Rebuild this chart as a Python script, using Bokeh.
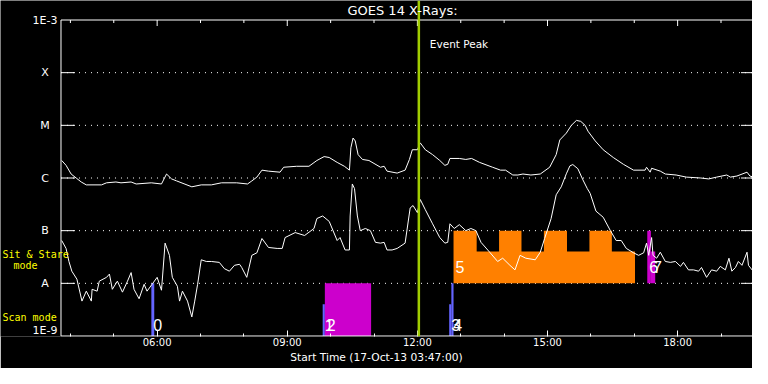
import pandas as pd
from bokeh.plotting import figure
from bokeh.models import FixedTicker, DatetimeAxis, DatetimeTickFormatter, Label, Span
from bokeh.embed import file_html
from bokeh.resources import INLINE

# ---------------- data ----------------
DAY = "2013-10-17 "
start_time = "03:47"
end_time = "19:47"
title_text = "GOES 14 X-Rays:"
x_label = "Start Time (17-Oct-13 03:47:00)"

level_values = [1e-9, 1e-8, 1e-7, 1e-6, 1e-5, 1e-4, 1e-3]
level_names = ["1E-9", "A", "B", "C", "M", "X", "1E-3"]

major_hours = ["06:00", "09:00", "12:00", "15:00", "18:00"]
minor_hours = ["04:00", "05:00", "07:00", "08:00", "10:00", "11:00", "13:00",
               "14:00", "16:00", "17:00", "19:00"]

# GOES long channel (1-8 A)
long_time = ["03:48", "03:54", "04:01", "04:08", "04:15", "04:22", "04:43", "04:50", "05:03", "05:10",
             "05:24", "05:31", "05:52", "06:06", "06:13", "06:20", "06:27", "06:48", "07:01", "07:15",
             "07:29", "07:50", "08:05", "08:11", "08:18", "08:25", "08:34", "08:50", "08:55", "09:13",
             "09:30", "09:41", "09:51", "09:58", "10:09", "10:19", "10:26", "10:28", "10:31", "10:34",
             "10:38", "10:44", "10:53", "11:09", "11:14", "11:18", "11:32", "11:43", "11:49", "11:53",
             "12:00", "12:04", "12:11", "12:21", "12:31", "12:38", "12:42", "12:45", "12:58", "13:07",
             "13:15", "13:26", "13:44", "13:55", "14:02", "14:12", "14:19", "14:26", "14:37", "14:50",
             "15:03", "15:12", "15:17", "15:26", "15:33", "15:40", "15:46", "15:52", "15:56", "16:06",
             "16:17", "16:31", "16:45", "16:59", "17:15", "17:17", "17:22", "17:24", "17:36", "17:43",
             "17:58", "18:12", "18:32", "18:43", "18:54", "19:08", "19:13", "19:22", "19:36", "19:40", "19:45"]
long_flux = [2.15e-6, 1.74e-6, 1.19e-6, 1.0e-6, 8.4e-7, 7.4e-7, 7.4e-7, 8.1e-7, 8.4e-7, 8.1e-7,
             8.4e-7, 7.7e-7, 8.1e-7, 7.7e-7, 1.19e-6, 9.6e-7, 8.8e-7, 6.8e-7, 7.4e-7, 7.4e-7,
             8.1e-7, 8.1e-7, 7.7e-7, 8.8e-7, 1.04e-6, 1.41e-6, 1.35e-6, 1.29e-6, 1.60e-6, 1.67e-6,
             1.67e-6, 2.15e-6, 2.55e-6, 2.45e-6, 1.98e-6, 1.67e-6, 1.41e-6, 3.75e-6, 5.74e-6, 5.06e-6,
             2.78e-6, 2.25e-6, 2.15e-6, 1.60e-6, 1.67e-6, 1.35e-6, 1.24e-6, 1.41e-6, 2.25e-6, 3.44e-6,
             3.44e-6, 4.64e-6, 3.44e-6, 2.78e-6, 2.15e-6, 1.74e-6, 1.82e-6, 2.35e-6, 2.35e-6, 2.25e-6,
             2.35e-6, 1.98e-6, 1.60e-6, 1.41e-6, 1.41e-6, 1.14e-6, 1.14e-6, 1.19e-6, 1.14e-6, 1.19e-6,
             1.60e-6, 2.78e-6, 5.28e-6, 7.11e-6, 1.0e-5, 1.24e-5, 1.19e-5, 1.0e-5, 7.74e-6, 5.06e-6,
             3.44e-6, 2.45e-6, 1.82e-6, 1.41e-6, 1.41e-6, 1.60e-6, 1.29e-6, 1.53e-6, 1.35e-6, 1.19e-6,
             1.14e-6, 1.04e-6, 1.0e-6, 9.6e-7, 1.04e-6, 1.14e-6, 1.04e-6, 1.09e-6, 1.29e-6, 1.09e-6, 1.04e-6]

# GOES short channel (0.5-4 A)
short_time = ["03:48", "03:54", "03:58", "04:02", "04:09", "04:16", "04:22", "04:29", "04:30", "04:37",
              "04:40", "04:50", "04:54", "04:58", "05:05", "05:12", "05:19", "05:24", "05:28", "05:35",
              "05:42", "05:46", "05:53", "06:00", "06:06", "06:07", "06:11", "06:17", "06:21", "06:28",
              "06:31", "06:35", "06:42", "06:48", "06:52", "06:56", "07:01", "07:08", "07:15", "07:26",
              "07:33", "07:40", "07:47", "07:54", "07:57", "08:04", "08:11", "08:18", "08:25", "08:34",
              "08:46", "08:53", "08:57", "09:11", "09:24", "09:37", "09:41", "09:49", "09:58", "10:09",
              "10:13", "10:20", "10:26", "10:27", "10:30", "10:33", "10:37", "10:41", "10:48", "10:55",
              "11:02", "11:09", "11:14", "11:18", "11:25", "11:32", "11:43", "11:50", "11:54", "12:00",
              "12:04", "12:11", "12:21", "12:31", "12:38", "12:42", "12:45", "12:51", "12:58", "13:07",
              "13:14", "13:21", "13:28", "13:40", "13:51", "13:58", "14:08", "14:15", "14:22", "14:30",
              "14:43", "14:50", "14:56", "15:05", "15:12", "15:19", "15:26", "15:31", "15:35", "15:42",
              "15:49", "15:55", "15:59", "16:07", "16:17", "16:27", "16:35", "16:42", "16:49", "16:59",
              "17:06", "17:13", "17:17", "17:20", "17:24", "17:26", "17:31", "17:36", "17:43", "17:50",
              "17:57", "18:04", "18:08", "18:15", "18:22", "18:29", "18:33", "18:40", "18:47", "18:54",
              "18:59", "19:06", "19:11", "19:15", "19:20", "19:24", "19:29", "19:36", "19:38", "19:43", "19:45"]
short_flux = [6.5e-8, 4.6e-8, 2.6e-8, 1.7e-8, 1.2e-8, 4.6e-9, 7.1e-9, 4.6e-9, 7.7e-9, 7.1e-9,
              1.1e-8, 1.3e-8, 1.5e-8, 7.7e-9, 1.1e-8, 6.8e-9, 1.1e-8, 1.6e-8, 7.7e-9, 5.1e-9,
              9.6e-9, 7.1e-9, 9.6e-9, 1.3e-8, 7.4e-9, 1.1e-8, 5.8e-8, 3.4e-8, 1.3e-8, 8.8e-9,
              4.6e-9, 7.1e-9, 4.6e-9, 2.3e-9, 4.6e-9, 9.6e-9, 2.8e-8, 2.6e-8, 2.6e-8, 2.5e-8,
              1.9e-8, 1.7e-8, 2.2e-8, 2.3e-8, 2.0e-8, 1.3e-8, 3.4e-8, 3.8e-8, 7.1e-8, 4.8e-8,
              4.6e-8, 4.6e-8, 7.4e-8, 9.2e-8, 8.1e-8, 1.1e-7, 1.7e-7, 1.9e-7, 1.5e-7, 6.5e-8,
              7.4e-8, 4.3e-8, 4.3e-8, 1.9e-7, 7.7e-7, 6.3e-7, 1.9e-7, 1.0e-7, 1.1e-7, 1.0e-7,
              6.0e-8, 5.8e-8, 6.0e-8, 4.3e-8, 4.3e-8, 4.6e-8, 5.8e-8, 2.7e-7, 3.0e-7, 2.2e-7,
              3.9e-7, 2.5e-7, 1.35e-7, 7.4e-8, 5.8e-8, 6.0e-8, 1.35e-7, 1.1e-7, 1.3e-7, 1.0e-7,
              1.1e-7, 1.0e-7, 6.0e-8, 3.9e-8, 2.6e-8, 3.0e-8, 2.2e-8, 1.8e-8, 3.4e-8, 3.0e-8,
              2.8e-8, 3.9e-8, 7.1e-8, 1.7e-7, 4.8e-7, 6.8e-7, 1.2e-6, 1.7e-6, 1.8e-6, 1.5e-6,
              9.2e-7, 6.3e-7, 5.1e-7, 2.35e-7, 1.8e-7, 1.0e-7, 6.5e-8, 6.5e-8, 4.6e-8, 3.8e-8,
              3.4e-8, 3.8e-8, 5.8e-8, 3.4e-8, 7.4e-8, 3.4e-8, 3.0e-8, 3.9e-8, 2.6e-8, 2.5e-8,
              2.6e-8, 2.1e-8, 2.5e-8, 1.8e-8, 1.8e-8, 1.7e-8, 2.0e-8, 1.3e-8, 1.8e-8, 1.7e-8,
              2.1e-8, 1.8e-8, 3.0e-8, 1.7e-8, 2.0e-8, 2.6e-8, 2.2e-8, 3.9e-8, 2.2e-8, 1.8e-8, 2.0e-8]

# observations: scan mode (blue)
scan_id = ["0", "1", "3", "4"]
scan_start = ["05:52", "09:49", "12:44", "12:47"]
scan_end = ["05:56", "09:52", "12:47", "12:50"]
scan_top = [1e-8, 4e-9, 4e-9, 1e-8]

# observations (magenta)
mag_id = ["2", "6", "7"]
mag_start = ["09:52", "17:18", "17:23"]
mag_end = ["10:56", "17:23", "17:29"]
mag_bottom = [1e-9, 1e-8, 1e-8]
mag_top = [1e-8, 1e-7, 4e-8]

# sit & stare (orange), observation 5
ss_id = "5"
ss_start = ["12:50", "13:22", "13:53", "14:24", "14:55", "15:27", "15:58", "16:29"]
ss_end = ["13:22", "13:53", "14:24", "14:55", "15:27", "15:58", "16:29", "17:01"]
ss_top = [1e-7, 4e-8, 1e-7, 4e-8, 1e-7, 4e-8, 1e-7, 4e-8]
ss_bottom = 1e-8

peak_time = "12:02"
peak_label = "Event Peak"
mode_labels = ["Sit & Stare", "mode", "Scan mode"]
mode_label_flux = [3.6e-8, 2.15e-8, 2.25e-9]


# ---------------- layout (pixels) ----------------
FIG_W, FIG_H = 752, 368
FRAME_B = 336                    # bottom of bokeh frame (axis panel below)
BOX_L, BOX_R = 60.5, 751.5       # data box left/right edges (px)
BOX_T, BOX_B = 19.5, FRAME_B - 0.5   # 1E-3 and 1E-9 (px from top)
DEC = (BOX_B - BOX_T) / 6.0      # px per decade


def ts(hhmm):
    return pd.Timestamp(DAY + hhmm)


def tlist(lst):
    return [ts(s) for s in lst]


def ms(t):
    return t.value / 1e6


t0, t1 = ts(start_time), ts(end_time)
MPP = (t1 - t0) / (BOX_R - BOX_L)   # timedelta per px


def px_time(px):
    return t0 + (px - BOX_L) * MPP


def py_flux(py):
    return level_values[0] * 10 ** ((BOX_B - py) / DEC)


FONT = "DejaVu Sans"
MONO = "DejaVu Sans Mono"
WHITE = "white"
BLUE = "#6464ff"
MAGENTA = "#cc00cc"
ORANGE = "#ff8000"
GREEN = "#a0cc00"
YELLOW = "#ffff00"

p = figure(width=FIG_W, height=FIG_H, x_axis_type="datetime", y_axis_type="log",
           x_range=(px_time(0), px_time(FIG_W)), y_range=(py_flux(FRAME_B), py_flux(0)),
           x_axis_location=None, y_axis_location=None,
           output_backend="svg", toolbar_location=None,
           background_fill_color="black", border_fill_color="black",
           min_border_left=0, min_border_right=0, min_border_top=0,
           min_border_bottom=FIG_H - FRAME_B)
p.outline_line_color = None
p.xgrid.visible = False
p.ygrid.visible = False

# bottom datetime axis (tick labels and axis title)
fmt = "%H:%M"
xax = DatetimeAxis(
    ticker=FixedTicker(ticks=[ms(t) for t in tlist(major_hours)],
                       minor_ticks=[ms(t) for t in tlist(minor_hours)]),
    formatter=DatetimeTickFormatter(microseconds=fmt, milliseconds=fmt, seconds=fmt, minsec=fmt,
                                    minutes=fmt, hourmin=fmt, hours=fmt, days=fmt, months=fmt,
                                    years=fmt),
    axis_label=x_label)
xax.axis_line_color = None
xax.major_tick_line_color = WHITE
xax.minor_tick_line_color = WHITE
xax.major_tick_in = 6
xax.major_tick_out = 0
xax.minor_tick_in = 3
xax.minor_tick_out = 0
xax.major_label_text_color = WHITE
xax.major_label_text_font = FONT
xax.major_label_text_font_size = "10px"
xax.major_label_standoff = 0
xax.axis_label_text_color = WHITE
xax.axis_label_text_font = FONT
xax.axis_label_text_font_size = "10.7px"
xax.axis_label_text_font_style = "normal"
xax.axis_label_standoff = 0
p.add_layout(xax, "below")

# dotted decade lines
lv = level_values[1:-1]
p.segment(x0=[t0] * len(lv), x1=[t1] * len(lv), y0=lv, y1=lv,
          line_color=WHITE, line_width=1, line_dash="1 5")

# sit & stare block as one stepped patch
ss_x = []
ss_y = []
for s, e, top in zip(tlist(ss_start), tlist(ss_end), ss_top):
    ss_x += [s, e]
    ss_y += [top, top]
ss_x += [ts(ss_end[-1]), ts(ss_start[0])]
ss_y += [ss_bottom, ss_bottom]
p.patch(x=ss_x, y=ss_y, fill_color=ORANGE, line_color=None)

# scan and other observation bars
p.quad(left=tlist(scan_start), right=tlist(scan_end), bottom=[level_values[0]] * len(scan_start),
       top=scan_top, fill_color=BLUE, line_color=None)
p.quad(left=tlist(mag_start), right=tlist(mag_end), bottom=mag_bottom, top=mag_top,
       fill_color=MAGENTA, line_color=None)

# GOES curves
p.line(x=tlist(long_time), y=long_flux, line_color=WHITE, line_width=1)
p.line(x=tlist(short_time), y=short_flux, line_color=WHITE, line_width=1)

# plot box
p.quad(left=[t0], right=[t1], bottom=[level_values[0]], top=[level_values[-1]],
       fill_color=None, line_color=WHITE, line_width=1)

# top tick marks (mirror of the time axis)
top_major = tlist(major_hours)
top_minor = tlist(minor_hours)
p.segment(x0=top_major, x1=top_major, y0=[level_values[-1]] * len(top_major),
          y1=[py_flux(BOX_T + 6)] * len(top_major), line_color=WHITE, line_width=1)
p.segment(x0=top_minor, x1=top_minor, y0=[level_values[-1]] * len(top_minor),
          y1=[py_flux(BOX_T + 3)] * len(top_minor), line_color=WHITE, line_width=1)

# y tick marks on both sides (14 px)
tick_len = 14 * MPP
p.segment(x0=[t0] * len(lv), x1=[t0 + tick_len] * len(lv), y0=lv, y1=lv, line_color=WHITE, line_width=1)
p.segment(x0=[t1 - tick_len] * len(lv), x1=[t1] * len(lv), y0=lv, y1=lv, line_color=WHITE, line_width=1)

# event peak
p.add_layout(Span(location=ms(ts(peak_time)), dimension="height", line_color=GREEN, line_width=2.5))
p.add_layout(Label(x=ms(ts(peak_time) + 11 * MPP), y=py_flux(BOX_T + 24), text=peak_label,
                   text_color=WHITE, text_font=FONT, text_font_size="10.5px", text_baseline="middle"))

# title
p.add_layout(Label(x=ms(px_time(402)), y=py_flux(10), text=title_text, text_color=WHITE,
                   text_font=FONT, text_font_size="13px", text_align="center", text_baseline="middle"))


# observation numbers
def num_label(tstart, bottom, txt):
    y = 1.6e-9 if bottom < 5e-9 else 2.07e-8
    p.add_layout(Label(x=ms(ts(tstart) + 2 * MPP), y=y, text=txt, text_color=WHITE,
                       text_font="Liberation Sans", text_font_size="16px", text_baseline="middle"))


for s, i in zip(scan_start, scan_id):
    num_label(s, level_values[0], i)
for s, b, i in zip(mag_start, mag_bottom, mag_id):
    num_label(s, b, i)
num_label(ss_start[0], ss_bottom, ss_id)

# y level names (left of the box)
for v, n in zip(level_values, level_names):
    yv = max(v, py_flux(BOX_B - 6))   # keep the bottom name inside the drawing area
    p.add_layout(Label(x=ms(px_time(44.5)), y=yv, text=n, text_color=WHITE, text_font=FONT,
                       text_font_size="11px", text_align="center", text_baseline="middle"))

# mode labels
for txt, y, xpx in zip(mode_labels, mode_label_flux, [2, 13, 2]):
    p.add_layout(Label(x=ms(px_time(xpx)), y=y, text=txt, text_color=YELLOW,
                       text_font=MONO, text_font_size="10px", text_baseline="middle"))

open("out.html", "w").write(file_html(p, INLINE))
